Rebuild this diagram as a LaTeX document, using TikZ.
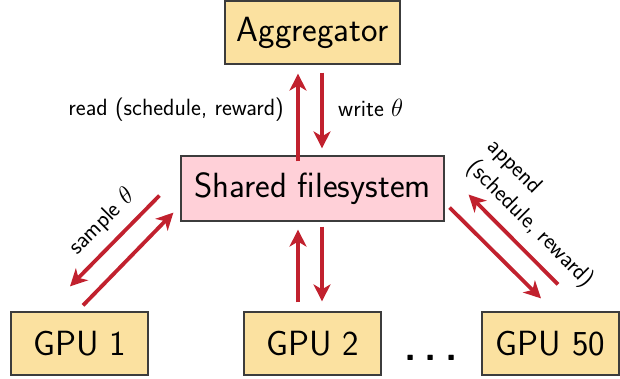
\documentclass[tikz,border=0pt]{standalone}
\usepackage{fontspec}
\usetikzlibrary{arrows.meta,calc}
\renewcommand{\familydefault}{\sfdefault}
\definecolor{boxyellow}{RGB}{251,225,160}
\definecolor{boxpink}{RGB}{255,208,216}
\definecolor{arrred}{RGB}{193,33,46}
\definecolor{boxline}{RGB}{60,60,60}
\begin{document}
\begin{tikzpicture}[x=1pt,y=-1pt,
  box/.style={draw=boxline,line width=1.2pt,fill=boxyellow,inner sep=0pt,
    font=\fontsize{35}{40}\selectfont},
  fsbox/.style={box,fill=boxpink},
  arr/.style={draw=arrred,line width=3.8pt,-{Stealth[length=17pt,width=17pt,inset=5pt]}},
  lbl/.style={font=\fontsize{23.5}{29}\selectfont,inner sep=0pt}]
\useasboundingbox (0,0) rectangle (620,379);
\node[box,minimum width=175pt,minimum height=63pt] (agg) at (312.5,32.5) {Aggregator};
\node[fsbox,minimum width=263pt,minimum height=65pt] (fs) at (312.5,188.5) {Shared filesystem};
\node[box,minimum width=137pt,minimum height=63pt] (g1) at (79.5,343.5) {GPU 1};
\node[box,minimum width=137pt,minimum height=63pt] (g2) at (312.5,343.5) {GPU 2};
\node[box,minimum width=137pt,minimum height=63pt] (g50) at (550.5,343.5) {GPU 50};
\node[font=\fontsize{40}{48}\selectfont\bfseries,inner sep=0pt,anchor=base] (dots) at (431,360) {.\kern8pt.\kern8pt.};
% aggregator <-> filesystem
\draw[arr] ([xshift=-14.5pt,yshift=-6pt]fs.north) -- ([xshift=-14.5pt,yshift=-9pt]agg.south);
\draw[arr] ([xshift=9.5pt,yshift=-8pt]agg.south) -- ([xshift=9.5pt,yshift=7pt]fs.north);
% filesystem <-> GPU 2
\draw[arr] ([xshift=-14.5pt,yshift=9pt]g2.north) -- ([xshift=-14.5pt,yshift=-8pt]fs.south);
\draw[arr] ([xshift=9.5pt,yshift=-5pt]fs.south) -- ([xshift=9.5pt,yshift=10pt]g2.north);
% filesystem <-> GPU 1
\draw[arr] ([shift={(-21,-26)}]fs.south west) -- ([shift={(-9.5,-25)}]g1.north);
\draw[arr] ([shift={(3.5,-6)}]g1.north) -- ([shift={(-7,-9)}]fs.south west);
% filesystem <-> GPU 50
\draw[arr] ([shift={(5,-14)}]fs.south east) -- ([shift={(-9.5,-13)}]g50.north);
\draw[arr] ([shift={(7.5,-27)}]g50.north) -- ([shift={(24,-27)}]fs.south east);
% labels
\node[lbl,anchor=east] (lread) at (284,110) {read (schedule, reward)};
\node[lbl,anchor=west] (lwrite) at (338,108) {write $\theta$};
\node[lbl,rotate=45] (lsample) at (102,222) {sample $\theta$};
\node[lbl,rotate=-45,align=left] (lappend) at (540,214) {append\\(schedule, reward)};
\end{tikzpicture}
\end{document}
